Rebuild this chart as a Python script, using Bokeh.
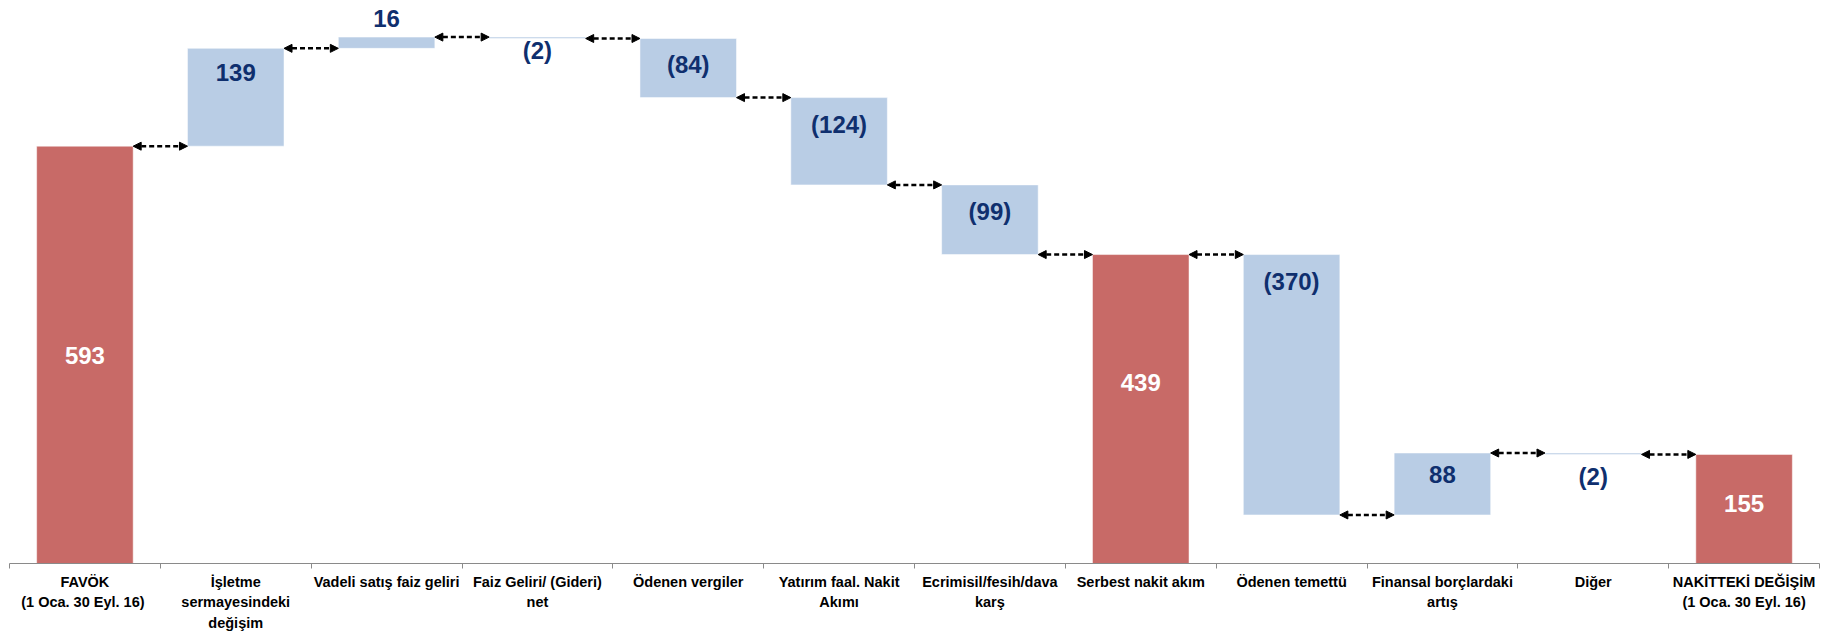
from bokeh.plotting import figure
from bokeh.models import Range1d, FixedTicker, ColumnDataSource, Arrow, NormalHead
from bokeh.core.properties import value
from bokeh.embed import file_html
from bokeh.resources import INLINE

# ---- data ----
categories = [
    "FAVÖK\n(1 Oca.  30 Eyl. 16)",
    "İşletme\nsermayesindeki\ndeğişim",
    "Vadeli satış faiz geliri",
    "Faiz Geliri/ (Gideri)\nnet",
    "Ödenen vergiler",
    "Yatırım faal. Nakit\nAkımı",
    "Ecrimisil/fesih/dava\nkarş",
    "Serbest nakit akım",
    "Ödenen temettü",
    "Finansal borçlardaki\nartış",
    "Diğer",
    "NAKİTTEKİ DEĞİŞİM\n(1 Oca. 30 Eyl. 16)",
]
values = [593, 139, 16, -2, -84, -124, -99, 439, -370, 88, -2, 155]
is_total = [True, False, False, False, False, False, False, True, False, False, False, True]

# ---- layout / style ----
RED = "#C86A67"
BLUE = "#B9CDE5"
NAVY = "#0F2F6E"
BAR_W = 0.64
# label centre offsets (px, downward) from the bar top
LABEL_DY = [209, 24, -19, 13, 26, 27, 27, 128, 27, 21, 23, 49]

n = len(values)
centers = [i + 0.5 for i in range(n)]
bottoms, tops, levels, colors, txt, tcol = [], [], [], [], [], []
running = 0
for v, tot in zip(values, is_total):
    if tot:
        b, t = 0, v
        running = v
        colors.append(RED)
        tcol.append("white")
    else:
        b, t = sorted([running, running + v])
        running += v
        colors.append(BLUE)
        tcol.append(NAVY)
    bottoms.append(b)
    tops.append(t)
    levels.append(running)
    txt.append(f"({abs(v)})" if v < 0 else f"{v}")

bars = ColumnDataSource(dict(x=centers, bottom=bottoms, top=tops, color=colors))
labels = ColumnDataSource(dict(x=centers, y=tops, text=txt, color=tcol, dy=LABEL_DY))

p = figure(
    x_range=Range1d(0, n), y_range=Range1d(0, 800),
    frame_width=1810, frame_height=563,
    min_border_left=9, min_border_right=8, min_border_top=0, min_border_bottom=0,
    output_backend="svg", toolbar_location=None, y_axis_location=None,
)
p.outline_line_color = None
p.grid.visible = False

p.vbar(x="x", bottom="bottom", top="top", width=BAR_W, fill_color="color",
       line_color="white", line_width=0.5, source=bars)

p.text(x="x", y="y", text="text", text_color="color", y_offset="dy", source=labels,
       text_font=value("Liberation Sans"), text_font_style="bold", text_font_size="24px",
       text_align="center", text_baseline="middle")

# connectors
arr = ColumnDataSource(dict(
    x0=[c + BAR_W / 2 for c in centers[:-1]],
    x1=[c + 1 - BAR_W / 2 for c in centers[:-1]],
    y=levels[:-1],
))
p.add_layout(Arrow(
    source=arr, x_start="x0", y_start="y", x_end="x1", y_end="y",
    line_color="black", line_width=2.5, line_dash="5 3",
    start=NormalHead(size=8, fill_color="black", line_color="black", line_width=1),
    end=NormalHead(size=8, fill_color="black", line_color="black", line_width=1),
))

ax = p.xaxis[0]
ax.ticker = FixedTicker(ticks=centers, minor_ticks=list(range(n + 1)))
ax.major_label_overrides = {c: lab for c, lab in zip(centers, categories)}
ax.major_tick_in = 0
ax.major_tick_out = 0
ax.minor_tick_in = 0
ax.minor_tick_out = 5
ax.axis_line_color = "#8A8A8A"
ax.minor_tick_line_color = "#8A8A8A"
ax.major_label_text_font = "Liberation Sans"
ax.major_label_text_font_style = "bold"
ax.major_label_text_font_size = "14.5px"
ax.major_label_text_color = "black"
ax.major_label_text_line_height = 1.3
ax.major_label_standoff = 5

open("out.html", "w").write(file_html(p, INLINE))
